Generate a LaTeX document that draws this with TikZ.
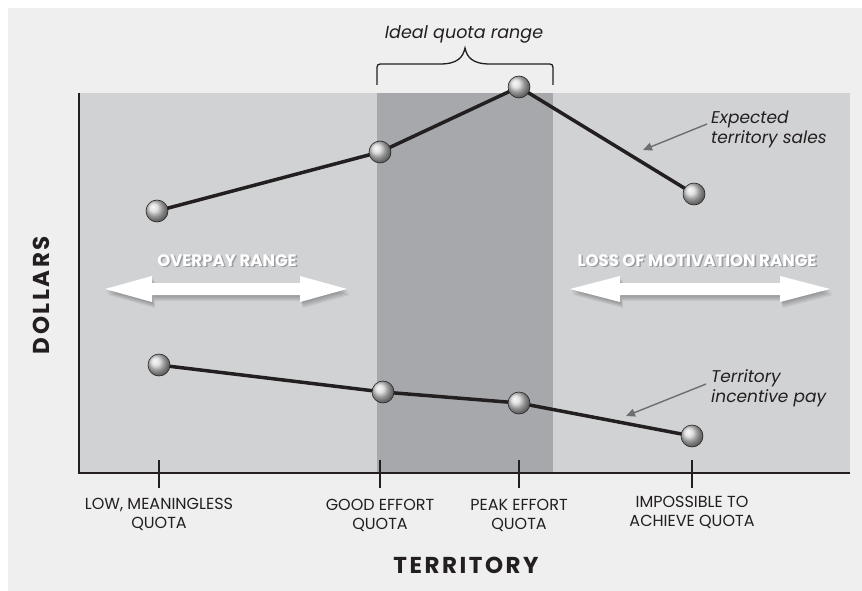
\documentclass[tikz,border=0pt]{standalone}
\usepackage{fontspec}
\setmainfont{Poppins}
\usetikzlibrary{calc,arrows.meta}
\definecolor{bggray}{HTML}{EFEFEF}
\definecolor{plotlight}{HTML}{D1D2D4}
\definecolor{plotdark}{HTML}{A7A8AB}
\definecolor{inkc}{HTML}{231F20}
\definecolor{annot}{HTML}{6D6E70}
\definecolor{txtshadow}{HTML}{9C9DA0}
\pgfdeclarelayer{back}
\pgfdeclarelayer{mid}
\pgfsetlayers{back,mid,main}
\tikzset{
  ball/.style={circle,minimum size=22pt,inner sep=0pt,shading=ball,ball color=gray!32,draw=black!85,line width=0.6pt},
  dataline/.style={draw=inkc,line width=3.5pt},
  axisline/.style={draw=inkc,line width=2.6pt},
  ticklabel/.style={font=\fontsize{16}{19}\selectfont,text=inkc,align=center,anchor=base,inner sep=0pt},
  annotext/.style={font=\fontsize{17}{20}\selectfont\itshape,text=inkc,align=left,anchor=base west,inner sep=0pt},
  annoarrow/.style={draw=annot,line width=1.4pt,-{Triangle[length=9pt,width=8pt]}},
  rangetext/.style={font=\fontsize{16.6}{18}\selectfont\bfseries,inner sep=0pt,anchor=base,text=white},
  axistitle/.style={font=\fontsize{23}{26}\selectfont\bfseries\addfontfeatures{LetterSpace=11},text=inkc,inner sep=0pt},
}
\newcommand{\shadowtext}[1]{\makebox[0pt][l]{\hspace{1.6pt}\raisebox{-1.8pt}{\textcolor{txtshadow}{#1}}}#1}
\newcommand{\rangearrowpath}[4]{(#1,#4) -- (#2,#4-13) -- (#2,#4-6) -- (#3,#4-6) -- (#3,#4-13) -- ({#3+(#2-#1)},#4) -- (#3,#4+13) -- (#3,#4+6) -- (#2,#4+6) -- (#2,#4+13) -- cycle}
\begin{document}
\begin{tikzpicture}[x=1pt,y=-1pt]
\useasboundingbox (0,0) rectangle (862,591);
\begin{pgfonlayer}{back}
\fill[white] (0,0) rectangle (862,591);
\fill[bggray] (8,8) rectangle (862,591);
\fill[plotlight] (78,93) rectangle (850,472);
\fill[plotdark] (377,93) rectangle (553,472);
\end{pgfonlayer}

% axes
\coordinate (ytop) at (79,93);
\coordinate (origin) at (79,473);
\coordinate (xend) at (850,473);
\draw[axisline] (ytop) -- (origin) -- (xend);

% ticks
\foreach \x/\n in {159/t1,380/t2,519/t3,692/t4}{
  \coordinate (\n a) at (\x,460);
  \coordinate (\n b) at (\x,488);
  \draw[axisline] (\n a) -- (\n b);
}

% tick labels (base = last line)
\node[ticklabel] (l1) at (159,528) {LOW, MEANINGLESS\\QUOTA};
\node[ticklabel] (l2) at (380,529) {GOOD EFFORT\\QUOTA};
\node[ticklabel] (l3) at (519,529) {PEAK EFFORT\\QUOTA};
\node[ticklabel] (l4) at (692,526) {IMPOSSIBLE TO\\ACHIEVE QUOTA};

% axis titles
\node[axistitle,anchor=base] (xt) at (466,573) {TERRITORY};
\node[axistitle,rotate=90] (yt) at (41,295) {DOLLARS};

% range arrows with soft shadow
\foreach \d in {1,2,3,4,5}{
  \fill[black,opacity=0.06,shift={(0.6*\d,1.2*\d)}] \rangearrowpath{105}{152}{300}{289};
  \fill[black,opacity=0.06,shift={(0.6*\d,1.2*\d)}] \rangearrowpath{570}{620}{780}{289};
}
\fill[white] \rangearrowpath{105}{152}{300}{289};
\fill[white] \rangearrowpath{570}{620}{780}{289};

\node[rangetext] (ov) at (227,266) {\shadowtext{OVERPAY RANGE}};
\node[rangetext] (lm) at (697,266) {\shadowtext{LOSS OF MOTIVATION RANGE}};

% brace and label
\draw[inkc,line width=1.3pt] (377,85) -- (377,71) .. controls (377,64) .. (384,64) -- (440,64) .. controls (458,64) and (463,57) .. (465,48) .. controls (467,57) and (472,64) .. (490,64) -- (546,64) .. controls (553,64) .. (553,71) -- (553,85);
\node[font=\fontsize{17.5}{20}\selectfont\itshape,text=inkc,anchor=base,inner sep=0pt] (ideal) at (464,39) {Ideal quota range};

% data points
\node[ball] (s1) at (157,211) {};
\node[ball] (s2) at (380,152) {};
\node[ball] (s3) at (519,87) {};
\node[ball] (s4) at (694,194) {};
\node[ball] (p1) at (159,365) {};
\node[ball] (p2) at (383,392) {};
\node[ball] (p3) at (519,403) {};
\node[ball] (p4) at (692,436) {};
\begin{pgfonlayer}{mid}
\draw[dataline] (s1.center) -- (s2.center) -- (s3.center) -- (s4.center);
\draw[dataline] (p1.center) -- (p2.center) -- (p3.center) -- (p4.center);
\end{pgfonlayer}

% annotations
\node[annotext] (ets) at (711,143) {Expected\\territory sales};
\node[annotext] (tip) at (711,402) {Territory\\incentive pay};
\coordinate (a1s) at (707,124);
\coordinate (a1e) at (643,150);
\coordinate (a2s) at (706,384);
\coordinate (a2e) at (626,416);
\draw[annoarrow] (a1s) -- (a1e);
\draw[annoarrow] (a2s) -- (a2e);
\end{tikzpicture}
\end{document}
